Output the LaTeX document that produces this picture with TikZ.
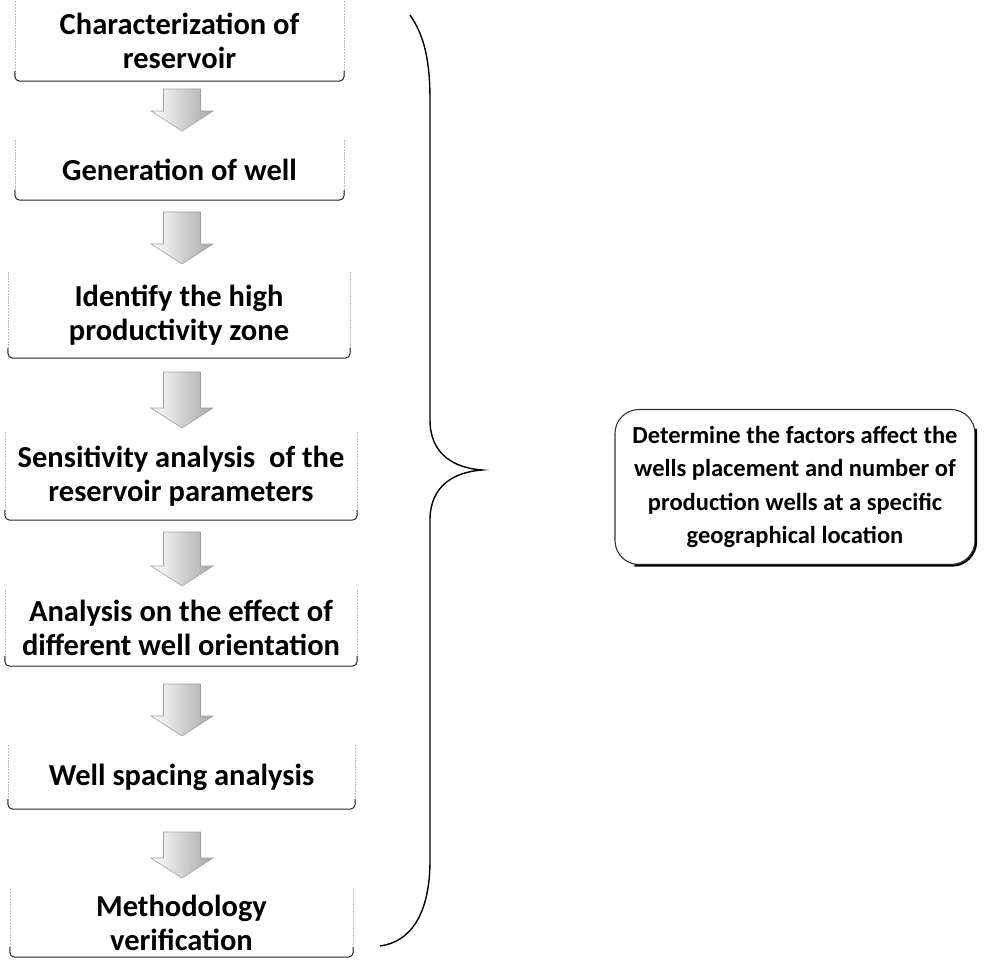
\documentclass[tikz,border=0pt]{standalone}
\usepackage{fontspec}
\setmainfont{Carlito}
\usetikzlibrary{calc}
\tikzset{
  stepbox/.style={align=center, inner sep=0pt, font=\fontsize{30.5}{33.5}\selectfont\bfseries},
  sideline/.style={draw=gray!55, line width=0.6pt, dash pattern=on 2pt off 1pt},
  botline/.style={draw=black!85, line width=1pt, rounded corners=5pt},
  flowarrow/.style={draw=gray!75, line width=0.6pt, left color=white, right color=gray!70},
  goalbox/.style={align=center, rounded corners=24pt, draw=black!80, line width=1.1pt,
     font=\fontsize{24.5}{33.5}\selectfont\bfseries, minimum width=360pt, minimum height=155pt, inner sep=0pt},
  goalshade/.style={draw=black, line width=2pt, rounded corners=24pt},
  bracestyle/.style={draw=black, line width=1.4pt}
}
\newcommand\frameit[1]{%
  \draw[sideline] (#1.north west) -- ([yshift=5pt]#1.south west);
  \draw[sideline] (#1.north east) -- ([yshift=5pt]#1.south east);
  \draw[botline] ([yshift=10pt]#1.south west) -- (#1.south west) -- (#1.south east) -- ([yshift=10pt]#1.south east);
}
% block arrow: #1 name of top coordinate, #2 length
\newcommand\blockarrow[2]{%
  \draw[flowarrow] ($(#1)+(-18.5,0)$) -- ($(#1)+(18.5,0)$) -- ($(#1)+(18.5,#2-20)$) -- ($(#1)+(31,#2-20)$)
    -- ($(#1)+(0,#2)$) -- ($(#1)+(-31,#2-20)$) -- ($(#1)+(-18.5,#2-20)$) -- cycle;
}
\begin{document}
\begin{tikzpicture}[x=1pt,y=-1pt]
\useasboundingbox (0,0) rectangle (985,960);
\node[stepbox, minimum width=329pt, minimum height=80pt] (b1) at (179.5,41) {Characterization of\\reservoir};
\node[stepbox, minimum width=329pt, minimum height=60pt] (b2) at (179.5,170) {Generation of well};
\node[stepbox, minimum width=342pt, minimum height=86pt] (b3) at (179,315) {Identify the high\\productivity zone};
\node[stepbox, minimum width=352pt, minimum height=88pt] (b4) at (181,476) {Sensitivity analysis \ of the\\reservoir parameters};
\node[stepbox, minimum width=352pt, minimum height=76pt] (b5) at (181,628) {Analysis on the effect of\\different well orientation};
\node[stepbox, minimum width=347pt, minimum height=64pt] (b6) at (181.5,777) {Well spacing analysis};
\node[stepbox, minimum width=343pt, minimum height=68pt] (b7) at (181.5,923) {Methodology\\verification};
\foreach \b in {b1,b2,b3,b4,b5,b6,b7} {\frameit{\b}}
\coordinate (a1) at (182,89);
\coordinate (a2) at (182,212);
\coordinate (a3) at (182,372);
\coordinate (a4) at (182,532);
\coordinate (a5) at (182,684);
\coordinate (a6) at (182,832);
\blockarrow{a1}{42}
\blockarrow{a2}{52}
\blockarrow{a3}{56}
\blockarrow{a4}{54}
\blockarrow{a5}{52}
\blockarrow{a6}{46}
\node[goalbox] (g) at (795,487) {Determine the factors affect the\\wells placement and number of\\production wells at a specific\\geographical location};
\draw[goalshade] ([xshift=0.6pt,yshift=-20pt]g.north east) -- ([xshift=0.6pt,yshift=-0.6pt]g.south east) -- ([xshift=20pt,yshift=-0.6pt]g.south west);
\coordinate (btop) at (410,15);
\coordinate (btip) at (482,470);
\coordinate (bbot) at (380,946);
\draw[bracestyle] (btop) .. controls (424,35) and (430,60) .. (430,100) -- (430,420)
  .. controls (430,455) and (455,468) .. (btip)
  .. controls (455,472) and (430,485) .. (430,520) -- (430,860)
  .. controls (430,915) and (410,942) .. (bbot);
\end{tikzpicture}
\end{document}
